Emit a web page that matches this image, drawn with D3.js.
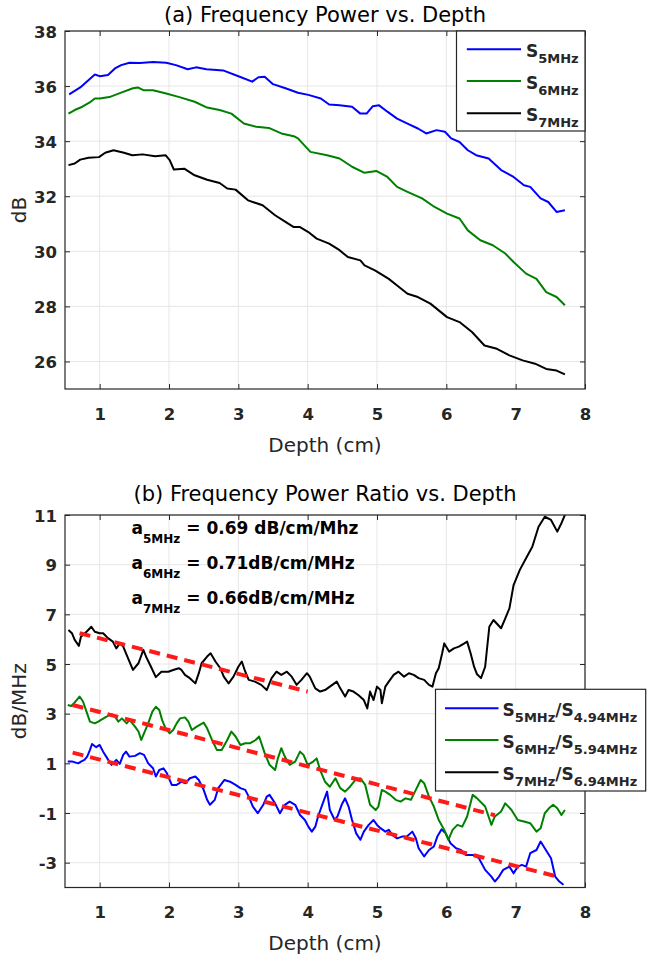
<!DOCTYPE html>
<html>
<head>
<meta charset="utf-8">
<script src="https://cdn.jsdelivr.net/npm/d3@7"></script>
<style>
  html, body { margin: 0; padding: 0; background: #fff; }
  svg { display: block; font-family: "DejaVu Sans", sans-serif; }
</style>
</head>
<body>
<svg id="chart" width="648" height="960"></svg>
<script>
// ---------------- DATA ----------------
const xTicks = [1, 2, 3, 4, 5, 6, 7, 8];
const yTicksA = [26, 28, 30, 32, 34, 36, 38];
const yTicksB = [-3, -1, 1, 3, 5, 7, 9, 11];

// (a) Frequency power vs depth  [depth cm, dB]
const s5 = [[0.56,35.7],[0.72,35.95],[0.93,36.42],[1.0,36.36],[1.12,36.4],[1.22,36.64],[1.31,36.76],[1.43,36.85],[1.58,36.84],[1.77,36.87],[1.96,36.85],[2.1,36.76],[2.27,36.61],[2.39,36.68],[2.54,36.61],[2.78,36.57],[3.02,36.34],[3.2,36.16],[3.29,36.32],[3.38,36.34],[3.5,36.07],[3.68,35.92],[3.86,35.76],[4.01,35.68],[4.19,35.55],[4.31,35.33],[4.46,35.3],[4.64,35.25],[4.76,35.0],[4.85,35.0],[4.94,35.27],[5.03,35.3],[5.15,35.07],[5.29,34.82],[5.44,34.64],[5.59,34.46],[5.71,34.28],[5.86,34.4],[5.98,34.34],[6.07,34.1],[6.19,33.97],[6.31,33.67],[6.43,33.49],[6.61,33.37],[6.79,32.95],[6.97,32.7],[7.12,32.4],[7.21,32.34],[7.36,31.92],[7.47,31.79],[7.59,31.43],[7.71,31.49]];
const s6 = [[0.55,35.0],[0.64,35.13],[0.75,35.25],[0.87,35.43],[0.93,35.55],[1.0,35.55],[1.14,35.6],[1.31,35.76],[1.48,35.92],[1.55,35.95],[1.63,35.85],[1.77,35.85],[1.96,35.73],[2.15,35.6],[2.37,35.43],[2.55,35.22],[2.73,35.13],[2.9,35.0],[3.08,34.64],[3.26,34.52],[3.44,34.48],[3.62,34.28],[3.8,34.18],[3.86,34.1],[4.04,33.61],[4.28,33.49],[4.46,33.37],[4.64,33.07],[4.82,32.85],[4.99,32.92],[5.15,32.7],[5.29,32.34],[5.44,32.16],[5.65,31.92],[5.83,31.61],[6.01,31.37],[6.19,31.19],[6.31,30.76],[6.49,30.4],[6.67,30.22],[6.85,29.92],[6.97,29.61],[7.15,29.19],[7.3,29.0],[7.44,28.52],[7.59,28.34],[7.71,28.04]];
const s7 = [[0.55,33.13],[0.64,33.19],[0.72,33.33],[0.84,33.4],[0.99,33.42],[1.08,33.58],[1.2,33.67],[1.35,33.58],[1.47,33.49],[1.62,33.52],[1.8,33.45],[1.95,33.49],[2.01,33.31],[2.07,32.97],[2.22,33.0],[2.37,32.76],[2.55,32.6],[2.73,32.48],[2.84,32.28],[2.96,32.24],[3.14,31.85],[3.35,31.67],[3.53,31.31],[3.68,31.07],[3.8,30.88],[3.89,30.88],[4.01,30.7],[4.13,30.46],[4.31,30.28],[4.46,30.04],[4.58,29.79],[4.76,29.67],[4.82,29.49],[4.97,29.31],[5.17,29.0],[5.29,28.76],[5.44,28.46],[5.59,28.34],[5.77,28.1],[6.01,27.61],[6.19,27.43],[6.37,27.07],[6.55,26.58],[6.73,26.46],[6.91,26.22],[7.1,26.04],[7.28,25.92],[7.44,25.73],[7.59,25.67],[7.71,25.53]];

// (b) Frequency power ratio vs depth  [depth cm, dB/MHz]
const r5 = [[0.54,1.07],[0.61,1.07],[0.69,1.0],[0.73,1.07],[0.78,1.14],[0.82,1.27],[0.86,1.54],[0.89,1.78],[0.95,1.65],[1.0,1.74],[1.05,1.47],[1.11,1.2],[1.17,0.94],[1.24,1.14],[1.29,0.98],[1.34,1.34],[1.38,1.47],[1.43,1.27],[1.51,1.3],[1.58,1.41],[1.64,1.34],[1.7,1.0],[1.77,0.8],[1.81,0.47],[1.86,0.73],[1.92,0.8],[1.97,0.6],[2.04,0.13],[2.11,0.13],[2.18,0.26],[2.24,0.2],[2.3,0.4],[2.38,0.47],[2.43,0.33],[2.5,-0.07],[2.55,-0.47],[2.59,-0.67],[2.66,-0.47],[2.71,0.0],[2.8,0.33],[2.88,0.26],[2.96,0.13],[3.03,0.0],[3.1,-0.07],[3.15,-0.34],[3.21,-0.74],[3.28,-1.01],[3.36,-0.67],[3.41,-0.34],[3.45,-0.27],[3.53,-0.61],[3.6,-1.01],[3.67,-0.67],[3.74,-0.54],[3.82,-0.67],[3.89,-1.08],[3.96,-1.28],[4.01,-1.55],[4.06,-1.75],[4.11,-1.55],[4.15,-1.14],[4.21,-0.67],[4.28,-0.14],[4.32,-0.88],[4.39,-1.28],[4.43,-1.14],[4.49,-0.67],[4.54,-0.41],[4.59,-0.74],[4.64,-1.28],[4.7,-1.82],[4.76,-2.08],[4.81,-1.75],[4.88,-1.48],[4.95,-1.28],[5.0,-1.48],[5.05,-1.61],[5.12,-1.75],[5.17,-1.68],[5.22,-1.88],[5.29,-2.02],[5.36,-1.95],[5.43,-1.95],[5.51,-1.75],[5.56,-2.02],[5.6,-2.42],[5.68,-2.75],[5.75,-2.49],[5.82,-2.35],[5.87,-1.95],[5.93,-1.66],[5.99,-1.82],[6.06,-2.22],[6.14,-2.42],[6.21,-2.49],[6.28,-2.69],[6.38,-2.69],[6.47,-2.82],[6.56,-3.29],[6.65,-3.56],[6.7,-3.76],[6.76,-3.56],[6.82,-3.29],[6.91,-3.16],[6.97,-3.43],[7.03,-3.16],[7.09,-3.09],[7.15,-3.16],[7.21,-2.62],[7.3,-2.49],[7.36,-2.15],[7.42,-2.42],[7.51,-2.82],[7.57,-3.56],[7.63,-3.76],[7.69,-3.89]];
const r6 = [[0.54,3.35],[0.59,3.31],[0.64,3.45],[0.71,3.69],[0.76,3.49],[0.81,3.08],[0.86,2.68],[0.93,2.61],[0.98,2.68],[1.02,2.75],[1.1,2.88],[1.17,2.98],[1.22,2.88],[1.27,2.68],[1.32,2.81],[1.39,2.61],[1.43,2.75],[1.51,2.48],[1.56,2.28],[1.6,1.94],[1.65,2.28],[1.7,2.61],[1.76,3.08],[1.81,3.28],[1.86,3.15],[1.9,2.75],[1.95,2.41],[2.01,2.21],[2.06,2.34],[2.11,2.61],[2.16,2.81],[2.23,2.85],[2.28,2.68],[2.33,2.34],[2.4,2.48],[2.5,2.64],[2.55,2.41],[2.62,1.94],[2.69,1.54],[2.76,1.54],[2.84,1.94],[2.9,2.28],[2.96,2.08],[3.03,1.74],[3.1,1.81],[3.17,1.81],[3.25,1.94],[3.3,2.08],[3.38,1.41],[3.45,0.94],[3.53,0.73],[3.57,1.2],[3.62,1.61],[3.67,1.27],[3.74,0.94],[3.82,1.07],[3.89,1.47],[3.94,1.34],[4.0,0.94],[4.08,1.07],[4.13,1.2],[4.18,0.73],[4.25,0.26],[4.32,0.06],[4.4,0.4],[4.47,0.0],[4.54,-0.14],[4.61,0.06],[4.69,0.33],[4.76,0.4],[4.83,0.13],[4.9,-0.67],[4.98,-0.88],[5.02,-0.74],[5.07,-0.07],[5.12,-0.14],[5.19,-0.27],[5.27,-0.47],[5.34,-0.54],[5.41,-0.41],[5.49,-0.47],[5.56,-0.07],[5.63,0.33],[5.68,0.2],[5.75,-0.34],[5.82,-0.74],[5.89,-1.28],[5.97,-1.68],[6.03,-2.08],[6.09,-1.68],[6.16,-1.48],[6.23,-1.55],[6.3,-1.14],[6.38,-0.27],[6.44,-0.4],[6.56,-0.74],[6.65,-1.48],[6.7,-1.14],[6.79,-0.94],[6.85,-0.61],[6.94,-0.88],[7.03,-1.28],[7.12,-1.34],[7.21,-1.41],[7.3,-1.75],[7.36,-1.61],[7.42,-1.01],[7.48,-0.81],[7.54,-0.67],[7.6,-0.81],[7.66,-1.08],[7.71,-0.88]];
const r7 = [[0.55,6.37],[0.6,6.24],[0.64,5.97],[0.7,5.73],[0.73,6.1],[0.81,6.3],[0.88,6.5],[0.93,6.3],[1.0,6.24],[1.05,6.24],[1.12,6.04],[1.19,5.9],[1.24,5.63],[1.29,5.83],[1.34,5.7],[1.41,5.23],[1.48,4.76],[1.56,5.03],[1.63,5.57],[1.68,5.23],[1.74,4.89],[1.81,4.47],[1.89,4.69],[1.99,4.69],[2.06,4.76],[2.14,4.83],[2.18,4.76],[2.23,4.56],[2.3,4.43],[2.38,4.22],[2.43,4.63],[2.47,5.03],[2.55,5.3],[2.6,5.43],[2.67,5.1],[2.74,4.83],[2.79,4.49],[2.86,4.22],[2.93,4.49],[3.0,4.89],[3.05,5.1],[3.1,4.69],[3.15,4.36],[3.24,4.29],[3.33,4.16],[3.41,3.95],[3.48,4.43],[3.55,4.69],[3.62,4.56],[3.7,4.69],[3.77,4.49],[3.84,4.16],[3.91,4.36],[3.99,4.63],[4.03,4.49],[4.11,4.02],[4.18,3.89],[4.25,3.95],[4.32,4.09],[4.42,4.29],[4.47,4.02],[4.54,3.69],[4.59,3.95],[4.66,3.89],[4.73,3.75],[4.81,3.55],[4.86,3.21],[4.9,3.89],[4.95,3.55],[5.0,4.09],[5.05,3.95],[5.07,3.42],[5.12,4.09],[5.17,4.29],[5.24,4.56],[5.31,4.69],[5.39,4.49],[5.46,4.63],[5.53,4.56],[5.6,4.43],[5.68,4.36],[5.75,4.16],[5.8,4.09],[5.85,4.63],[5.89,4.83],[5.94,5.43],[5.97,5.83],[6.04,5.5],[6.11,5.63],[6.18,5.7],[6.26,5.83],[6.3,5.9],[6.35,5.43],[6.4,4.89],[6.44,4.6],[6.5,4.43],[6.56,4.89],[6.62,6.5],[6.68,6.77],[6.79,6.44],[6.85,6.84],[6.91,7.24],[6.97,8.18],[7.06,8.79],[7.15,9.26],[7.24,9.72],[7.33,10.53],[7.42,10.93],[7.51,10.8],[7.6,10.33],[7.66,10.67],[7.71,11.0]];

// linear fits (dashed red)
const fit5 = [[0.61,1.43],[7.6,-3.56]];
const fit6 = [[0.61,3.35],[6.7,-1.09]];
const fit7 = [[0.71,6.24],[4.0,3.89]];

const legendA = [
  {sub: "5MHz", color: "#0000ff"},
  {sub: "6MHz", color: "#008000"},
  {sub: "7MHz", color: "#000000"}
];
const legendB = [
  {sub1: "5MHz", sub2: "4.94MHz", color: "#0000ff"},
  {sub1: "6MHz", sub2: "5.94MHz", color: "#008000"},
  {sub1: "7MHz", sub2: "6.94MHz", color: "#000000"}
];
const notes = [
  {sub: "5MHz", text: " = 0.69 dB/cm/Mhz"},
  {sub: "6MHz", text: " = 0.71dB/cm/MHz"},
  {sub: "7MHz", text: " = 0.66dB/cm/MHz"}
];

// ---------------- DRAW ----------------
const svg = d3.select("#chart");
const AX = "#262626";
const X0 = 65, X1 = 585;

function panel(cfg) {
  const g = svg.append("g");
  const x = d3.scaleLinear().domain([0.5, 8]).range([X0, X1]);
  const y = d3.scaleLinear().domain(cfg.yDomain).range([cfg.bottom, cfg.top]);
  const h = cfg.bottom - cfg.top;

  const clipId = "clip" + cfg.id;
  svg.append("clipPath").attr("id", clipId).append("rect")
    .attr("x", X0).attr("y", cfg.top).attr("width", X1 - X0).attr("height", h);

  // grid
  g.append("g").selectAll("line.gx").data(xTicks).join("line")
    .attr("x1", d => x(d)).attr("x2", d => x(d))
    .attr("y1", cfg.top).attr("y2", cfg.bottom)
    .attr("stroke", "#e6e6e6").attr("stroke-width", 1);
  g.append("g").selectAll("line.gy").data(cfg.yTicks).join("line")
    .attr("y1", d => y(d)).attr("y2", d => y(d))
    .attr("x1", X0).attr("x2", X1)
    .attr("stroke", "#e6e6e6").attr("stroke-width", 1);

  const line = d3.line().x(d => x(d[0])).y(d => y(d[1]));
  const plot = g.append("g").attr("clip-path", `url(#${clipId})`);
  cfg.series.forEach(s => {
    plot.append("path").datum(s.data).attr("d", line)
      .attr("fill", "none").attr("stroke", s.color)
      .attr("stroke-width", 2).attr("stroke-linejoin", "round");
  });
  (cfg.fits || []).forEach(f => {
    plot.append("path").datum(f).attr("d", line)
      .attr("fill", "none").attr("stroke", "#ff1a1a")
      .attr("stroke-width", 4).attr("stroke-dasharray", "11,7");
  });

  // axes (inward ticks on all four sides)
  const fmt = d => String(d);
  const fontTick = s => s.selectAll("text")
    .attr("font-family", "DejaVu Sans").attr("font-weight", "bold")
    .attr("font-size", 16.5).attr("fill", AX);
  const styleAxis = s => {
    s.select(".domain").remove();
    s.selectAll(".tick line").attr("stroke", AX).attr("stroke-width", 1);
  };
  g.append("g").attr("transform", `translate(0,${cfg.bottom})`)
    .call(d3.axisBottom(x).tickValues(xTicks).tickFormat(fmt).tickSize(-5).tickSizeOuter(0).tickPadding(19))
    .call(styleAxis).call(fontTick);
  g.append("g").attr("transform", `translate(0,${cfg.top})`)
    .call(d3.axisTop(x).tickValues(xTicks).tickSize(-5).tickSizeOuter(0).tickFormat(""))
    .call(styleAxis);
  g.append("g").attr("transform", `translate(${X0},0)`)
    .call(d3.axisLeft(y).tickValues(cfg.yTicks).tickFormat(fmt).tickSize(-5).tickSizeOuter(0).tickPadding(8))
    .call(styleAxis).call(fontTick)
    .selectAll("text").attr("dy", "0.38em");
  g.append("g").attr("transform", `translate(${X1},0)`)
    .call(d3.axisRight(y).tickValues(cfg.yTicks).tickSize(-5).tickSizeOuter(0).tickFormat(""))
    .call(styleAxis);

  g.append("rect").attr("x", X0).attr("y", cfg.top)
    .attr("width", X1 - X0).attr("height", h)
    .attr("fill", "none").attr("stroke", AX).attr("stroke-width", 1.2);

  // title and labels
  g.append("text").attr("x", (X0 + X1) / 2).attr("y", cfg.top - cfg.titleGap)
    .attr("text-anchor", "middle").attr("font-size", 21).attr("fill", "#000")
    .text(cfg.title);
  g.append("text").attr("x", (X0 + X1) / 2).attr("y", cfg.bottom + 62.5)
    .attr("text-anchor", "middle").attr("font-size", 20).attr("fill", AX)
    .text("Depth (cm)");
  g.append("text")
    .attr("transform", `translate(26,${(cfg.top + cfg.bottom) / 2}) rotate(-90)`)
    .attr("text-anchor", "middle").attr("font-size", 20).attr("fill", AX)
    .text(cfg.ylabel);
  return {g, x, y};
}

// Panel (a)
const A = panel({
  id: "a", top: 31, bottom: 389, yDomain: [25, 38], yTicks: yTicksA,
  title: "(a) Frequency Power vs. Depth", titleGap: 9, ylabel: "dB",
  series: [{data: s5, color: "#0000ff"}, {data: s6, color: "#008000"}, {data: s7, color: "#000000"}]
});

// Legend (a)
{
  const lg = A.g.append("g");
  lg.append("rect").attr("x", 456.5).attr("y", 31).attr("width", 585 - 456.5).attr("height", 100)
    .attr("fill", "#fff").attr("stroke", AX).attr("stroke-width", 1.2);
  const rowY = [49.3, 81, 113.3];
  legendA.forEach((d, i) => {
    lg.append("line").attr("x1", 466.8).attr("x2", 521).attr("y1", rowY[i]).attr("y2", rowY[i])
      .attr("stroke", d.color).attr("stroke-width", 2);
    const t = lg.append("text").attr("x", 526).attr("y", rowY[i] + 8)
      .attr("font-weight", "bold").attr("fill", AX);
    t.append("tspan").attr("font-size", 17).text("S");
    t.append("tspan").attr("font-size", 13).attr("dy", 6).text(d.sub);
  });
}

// Panel (b)
const B = panel({
  id: "b", top: 515, bottom: 887.5, yDomain: [-4, 11], yTicks: yTicksB,
  title: "(b) Frequency Power Ratio vs. Depth", titleGap: 14, ylabel: "dB/MHz",
  series: [{data: r5, color: "#0000ff"}, {data: r6, color: "#008000"}, {data: r7, color: "#000000"}],
  fits: [fit5, fit6, fit7]
});

// annotations
{
  const ys = [533.5, 568.5, 603.5];
  notes.forEach((d, i) => {
    const t = B.g.append("text").attr("x", 131.5).attr("y", ys[i])
      .attr("font-weight", "bold").attr("fill", "#000");
    t.append("tspan").attr("font-size", 17).text("a");
    t.append("tspan").attr("font-size", 12).attr("dy", 9).text(d.sub);
    t.append("tspan").attr("font-size", 17).attr("dy", -9).text(d.text);
  });
}

// Legend (b)
{
  const lg = B.g.append("g");
  lg.append("rect").attr("x", 435.5).attr("y", 689.3).attr("width", 645.7 - 435.5).attr("height", 791 - 689.3)
    .attr("fill", "#fff").attr("stroke", AX).attr("stroke-width", 1.2);
  const rowY = [708.3, 740, 772.3];
  legendB.forEach((d, i) => {
    lg.append("line").attr("x1", 445).attr("x2", 498.5).attr("y1", rowY[i]).attr("y2", rowY[i])
      .attr("stroke", d.color).attr("stroke-width", 2);
    const t = lg.append("text").attr("x", 502.6).attr("y", rowY[i] + 8)
      .attr("font-weight", "bold").attr("fill", AX);
    t.append("tspan").attr("font-size", 17).text("S");
    t.append("tspan").attr("font-size", 13).attr("dy", 6).text(d.sub1);
    t.append("tspan").attr("font-size", 17).attr("dy", -6).text("/S");
    t.append("tspan").attr("font-size", 13).attr("dy", 6).text(d.sub2);
  });
}
</script>
</body>
</html>
